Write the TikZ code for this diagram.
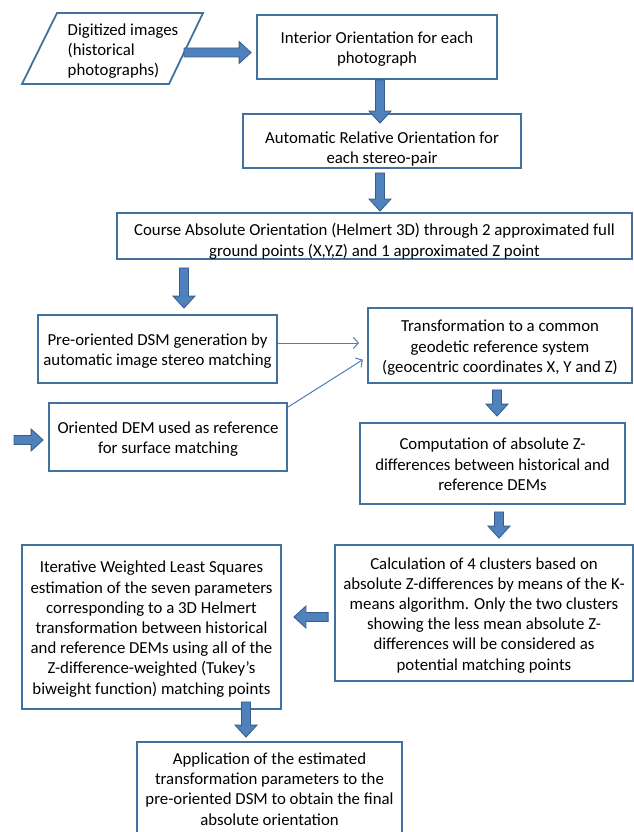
\documentclass[tikz,border=0pt]{standalone}
\usepackage{fontspec}
\setmainfont{Carlito}
\usetikzlibrary{calc,arrows.meta}
\definecolor{boxc}{HTML}{41719C}
\definecolor{blkfill}{HTML}{4F81BD}
\definecolor{blkline}{HTML}{385D8A}
\definecolor{connc}{HTML}{4A7EBB}
\newcommand\blk[2]{\filldraw[blkarrow] ($(#1)!4.5pt!90:(#2)$) -- ($(#2)!12pt!(#1)!4.5pt!90:(#2)$) -- ($(#2)!12pt!(#1)!11pt!90:(#2)$) -- (#2) -- ($(#2)!12pt!(#1)!11pt!-90:(#2)$) -- ($(#2)!12pt!(#1)!4.5pt!-90:(#2)$) -- ($(#1)!4.5pt!-90:(#2)$) -- cycle;}
\newcommand\topstr{\rule{0pt}{18pt}}
\newcommand\botstr{\rule[-5pt]{0pt}{5pt}}
\tikzset{
  txt/.style={font=\fontsize{16.8}{20.2}\selectfont, inner sep=0pt},
  box/.style={txt, draw=boxc, line width=1.8pt, fill=white, align=center},
  boxline/.style={draw=boxc, line width=1.8pt, line join=miter},
  blkarrow/.style={fill=blkfill, draw=blkline, line width=0.8pt, line join=miter},
  conn/.style={draw=connc, line width=1pt, -{Straight Barb[length=5pt,width=11pt]}},
}
\begin{document}
\begin{tikzpicture}[x=1pt,y=-1pt]
\useasboundingbox (0,0) rectangle (634,832);
% input parallelogram
\draw[boxline] (57,13) -- (203,13) -- (169,84) -- (22,84) -- cycle;
\node[txt, align=left] (dig) at (123,51) {Digitized images\\(historical\\photographs)};
% boxes
\node[box, minimum width=240pt, minimum height=64pt] (int) at (377,47) {\topstr Interior Orientation for each\\photograph\botstr};
\node[box, minimum width=278pt, minimum height=54pt] (aro) at (382,141) {\rule{0pt}{28pt}Automatic Relative Orientation for\\each stereo-pair};
\node[box, minimum width=515pt, minimum height=46pt] (course) at (374.5,236) {\rule{0pt}{23pt}Course Absolute Orientation (Helmert 3D) through 2 approximated full\\ground points (X,Y,Z) and 1 approximated Z point};
\node[box, minimum width=239pt, minimum height=68pt] (dsm) at (157.5,349) {\topstr Pre-oriented DSM generation by\\automatic image stereo matching\botstr};
\node[box, minimum width=264pt, minimum height=75pt] (trans) at (500,345.5) {\topstr Transformation to a common\\geodetic reference system\\(geocentric coordinates X, Y and Z)\botstr};
\node[box, minimum width=238pt, minimum height=68pt] (dem) at (168,437) {\topstr Oriented DEM used as reference\\for surface matching\botstr};
\node[box, minimum width=265pt, minimum height=81pt] (comp) at (492.5,463.5) {\topstr Computation of absolute Z-\\differences between historical and\\reference DEMs\botstr};
\node[box, minimum width=298pt, minimum height=136pt] (calc) at (484,613) {\topstr Calculation of 4 clusters based on\\absolute Z-differences by means of the K-\\means algorithm. Only the two clusters\\showing the less mean absolute Z-\\differences will be considered as\\potential matching points\botstr};
\node[box, minimum width=259pt, minimum height=164pt] (iter) at (151.5,627) {\topstr Iterative Weighted Least Squares\\estimation of the seven parameters\\corresponding to a 3D Helmert\\transformation between historical\\and reference DEMs using all of the\\Z-difference-weighted (Tukey’s\\biweight function) matching points\botstr};
\node[box, minimum width=265pt, minimum height=94pt] (app) at (269.5,789) {Application of the estimated\\transformation parameters to the\\pre-oriented DSM to obtain the final\\absolute orientation};
% block arrows
\coordinate (a1s) at (184,52.5);
\coordinate (a1e) at ($(int.west)+(-5,5.5)$);
\blk{a1s}{a1e}
\coordinate (a2s) at (int.south -| 380,0);
\coordinate (a2e) at ($(aro.north -| 380,0)+(0,10)$);
\blk{a2s}{a2e}
\coordinate (a3s) at ($(aro.south -| 380,0)+(0,4)$);
\coordinate (a3e) at ($(course.north -| 380,0)+(0,-1)$);
\blk{a3s}{a3e}
\coordinate (a4s) at ($(course.south -| 184,0)+(0,8)$);
\coordinate (a4e) at ($(dsm.north -| 184,0)+(0,-6)$);
\blk{a4s}{a4e}
\coordinate (a5s) at ($(trans.south -| 497,0)+(0,6)$);
\coordinate (a5e) at ($(comp.north -| 497,0)+(0,-6)$);
\blk{a5s}{a5e}
\coordinate (a6s) at ($(comp.south -| 499,0)+(0,7)$);
\coordinate (a6e) at ($(calc.north -| 499,0)+(0,-6)$);
\blk{a6s}{a6e}
\coordinate (a7s) at ($(calc.west |- 0,617)+(-6,0)$);
\coordinate (a7e) at ($(iter.east |- 0,617)+(12,0)$);
\blk{a7s}{a7e}
\coordinate (a8s) at ($(iter.south -| 246,0)+(0,-8)$);
\coordinate (a8e) at ($(app.north -| 246,0)+(0,-4)$);
\blk{a8s}{a8e}
\coordinate (a9s) at (14,440);
\coordinate (a9e) at ($(dem.west |- 0,440)+(-5,0)$);
\blk{a9s}{a9e}
% thin connectors
\draw[conn, shorten >=8pt] (dsm.east |- 0,343) -- (trans.west |- 0,343);
\draw[conn, shorten >=5pt] ($(dem.north east)+(0,5)$) -- (trans.west |- 0,357);
\end{tikzpicture}
\end{document}
